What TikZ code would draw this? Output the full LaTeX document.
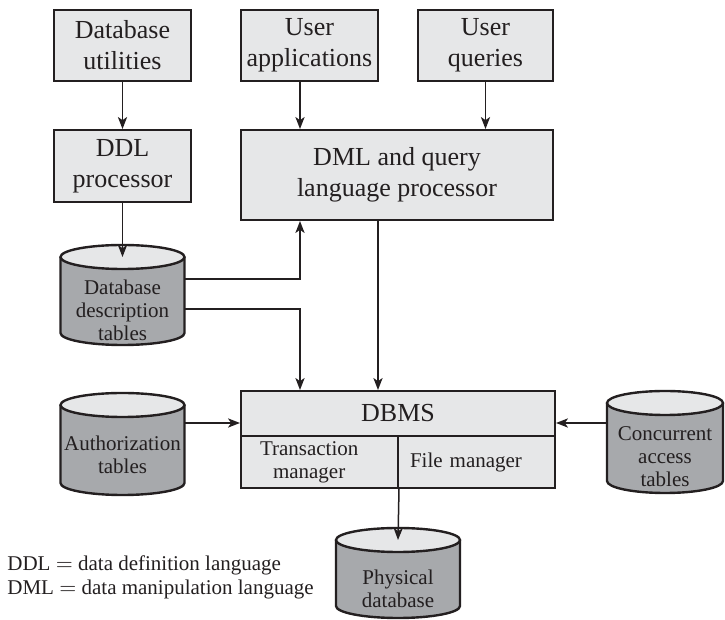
\documentclass[tikz,border=0pt]{standalone}
\usepackage{fontspec}
\setmainfont{Liberation Serif}
\usetikzlibrary{arrows.meta,calc}

\definecolor{boxgray}{HTML}{E6E7E8}
\definecolor{cylgray}{HTML}{A7A9AC}
\definecolor{inkdark}{HTML}{231F20}

\begin{document}
\begin{tikzpicture}[x=0.5pt,y=0.5pt,
  box/.style={draw=inkdark,line width=1pt,fill=boxgray,inner sep=0pt,align=center,
    font=\fontsize{13}{15.5}\selectfont,text=inkdark},
  cell/.style={draw=inkdark,line width=1pt,fill=boxgray,inner ysep=0pt,align=left,
    minimum height=26pt,font=\fontsize{10.5}{11.5}\selectfont,text=inkdark},
  cyltext/.style={inner sep=0pt,align=center,font=\fontsize{10.5}{11.5}\selectfont,text=inkdark},
  cylline/.style={draw=inkdark,line width=1.2pt},
  link/.style={draw=inkdark,line width=0.75pt,-{Stealth[length=6pt,width=4.6pt,inset=1.6pt]}}]

\useasboundingbox (0,0) rectangle (725,-620);

% Input boxes
\node[box,minimum width=68.5pt,minimum height=35.5pt] (util) at (122.5,-45.5) {Database\\utilities};
\node[box,minimum width=68.5pt,minimum height=35.5pt] (apps) at (309.5,-45.5) {User\\applications};
\node[box,minimum width=67.5pt,minimum height=35.5pt] (queries) at (485.5,-45.5) {User\\queries};

% Processors
\node[box,minimum width=68.5pt,minimum height=36pt] (ddl) at (122.5,-166) {DDL\\processor};
\node[box,minimum width=156pt,minimum height=45pt] (dml) at (397,-175) {DML and query\\language processor};

% DBMS
\node[box,minimum width=157pt,minimum height=22.5pt] (dbms) at (398,-413.5) {DBMS};
\node[cell,text width=59.5pt,inner xsep=9.5pt] (trans) at (319.5,-462) {Transaction\\\hspace*{6.5pt}manager};
\node[cell,text width=66.5pt,inner xsep=6pt] (files) at (476.5,-462) {File manager};

% Tables (cylinders)
\foreach \n/\cx/\rx/\yt/\yb/\ty/\lab in {
    desc/122.5/62/257/333/310/{Database\\description\\tables},
    auth/122.5/62/405/483/455/{Authorization\\tables},
    conc/665/58/403/481/457/{Concurrent\\access\\tables},
    phys/398/62/540/606/589/{Physical\\database}}
{
  \begin{scope}[shift={(\cx,-\yt)}]
    \fill[cylgray] (-\rx,0) -- (-\rx,\yt-\yb)
      arc[start angle=180,end angle=360,x radius=\rx,y radius=12] -- (\rx,0) -- cycle;
    \draw[cylline] (-\rx,0) -- (-\rx,\yt-\yb)
      arc[start angle=180,end angle=360,x radius=\rx,y radius=12] -- (\rx,0);
    \draw[cylline,fill=boxgray] (0,0) ellipse[x radius=\rx,y radius=12];
    \coordinate (\n-top) at (0,0);
  \end{scope}
  \node[cyltext,minimum width={\rx pt}] (\n) at (\cx,-\ty) {\lab};
}

% Legend
\node[anchor=west,align=left,inner sep=0pt,font=\fontsize{10.5}{12}\selectfont,text=inkdark]
  (legend) at (7,-577) {DDL $=$ data definition language\\DML $=$ data manipulation language};

% Routing levels
\coordinate (colA) at (300,0);
\coordinate (colB) at (378,0);
\coordinate (rowA) at (0,-279);
\coordinate (rowB) at (0,-309);
\coordinate (rowC) at (0,-423);

% Connectors
\draw[link] (util) -- (ddl);
\draw[link] (apps.south -| colA) -- (dml.north -| colA);
\draw[link] (queries.south) -- (queries.south |- dml.north);
\draw[link] (ddl) -- (desc-top);
\draw[link] (desc.east |- rowA) -| (dml.south -| colA);
\draw[link] (desc.east |- rowB) -| (dbms.north -| colA);
\draw[link] (dml.south -| colB) -- (dbms.north -| colB);
\draw[link] (auth.east |- rowC) -- (dbms.west |- rowC);
\draw[link] (conc.west |- rowC) -- (dbms.east |- rowC);
\draw[link] (trans.south east) -- (phys-top);

\end{tikzpicture}
\end{document}
